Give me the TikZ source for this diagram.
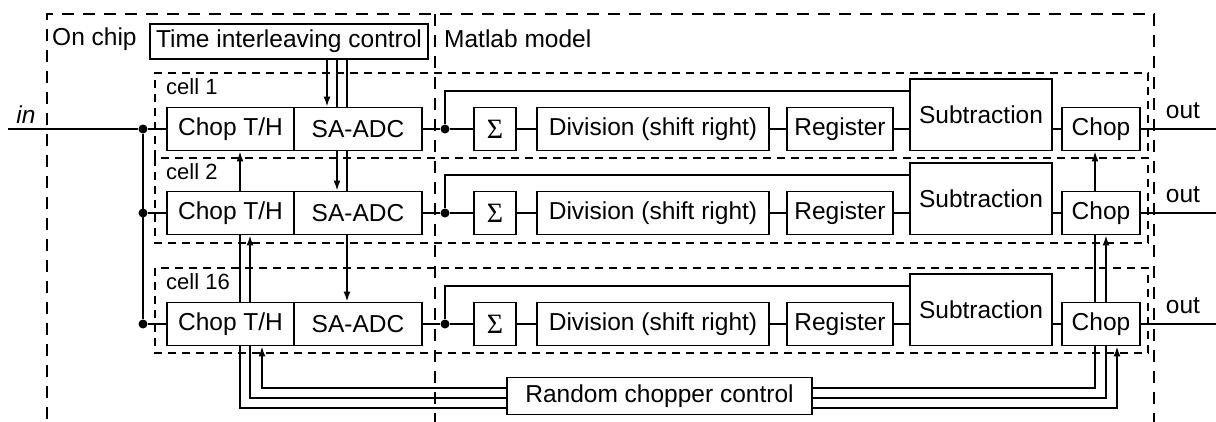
\documentclass[tikz,border=0pt]{standalone}
\usepackage{fontspec}
\setmainfont{Liberation Sans}
\newfontfamily\sigfont{Liberation Serif}
\usetikzlibrary{arrows.meta,calc}

\begin{document}
\begin{tikzpicture}[x=1pt,y=-1pt,
  blk/.style={draw, line width=1.8pt, inner sep=0pt, minimum height=43pt,
              font=\fontsize{24.5}{28}\selectfont},
  region/.style={draw, line width=1.7pt, dash pattern=on 12pt off 9pt},
  cellbox/.style={draw, line width=1.7pt, dash pattern=on 8pt off 6pt},
  wire/.style={draw, line width=1.7pt},
  ctl/.style={wire, -{Latex[length=10pt,width=7pt]}},
  lbl/.style={inner sep=0pt, font=\fontsize{24.5}{28}\selectfont},
  celllbl/.style={inner sep=0pt, anchor=base west, font=\fontsize{22}{26}\selectfont},
  dot/.style={circle, fill, inner sep=0pt, minimum size=9pt},
]
\useasboundingbox (0,0) rectangle (1216,421);
\clip (0,0) rectangle (1216,421);

% on-chip / model regions
\draw[region] (47,440) -- (47,14) -- (1154,14) -- (1154,440);
\draw[region] (435,14) -- (435,440);
\node[lbl, anchor=base west] (onchip) at (52,45) {On chip};
\node[lbl, anchor=base west] (matlab) at (444,47) {Matlab model};

% cell outlines
\draw[cellbox] (155,158) -- (155,73) -- (1148,73) -- (1148,158);
\draw[cellbox] (155,158) rectangle (1148,243);
\draw[cellbox] (155,268) rectangle (1148,353);
\node[celllbl] (cl1) at (166,94) {cell 1};
\node[celllbl] (cl2) at (166,179) {cell 2};
\node[celllbl] (cl3) at (166,289) {cell 16};

% control blocks
\node[blk, minimum width=278pt, minimum height=35pt] (tic) at (289,41.5) {Time interleaving control};
\node[blk, minimum width=305pt, minimum height=37pt] (rcc) at (659.5,396) {Random chopper control};

% signal chain of each cell
\foreach \r/\c in {1/129, 2/213, 3/324} {
  \node[blk, minimum width=127pt] (th\r) at (230.5,\c) {Chop T/H};
  \node[blk, minimum width=128pt] (adc\r) at (358,\c) {SA-ADC};
  \node[blk, minimum width=42pt] (sig\r) at (495,\c) {\sigfont\fontsize{28}{30}\selectfont Σ};
  \node[blk, minimum width=232pt] (div\r) at (653,\c) {Division (shift right)};
  \node[blk, minimum width=106pt] (reg\r) at (840,\c) {Register};
  \node[blk, minimum width=142pt, minimum height=71.5pt] (sub\r) at (981,\c-14.25) {Subtraction};
  \node[blk, minimum width=78pt] (chp\r) at (1101,\c) {Chop};
  \node[dot] (din\r) at (143,\c) {};
  \node[dot] (dout\r) at (445,\c) {};
  \coordinate (fb\r) at (981,\c-38);
  \coordinate (out\r) at (1216,\c);
  \draw[wire] (din\r) -- (th\r);
  \draw[wire] (adc\r) -- (dout\r) -- (sig\r);
  \draw[wire] (sig\r) -- (div\r);
  \draw[wire] (div\r) -- (reg\r);
  \draw[wire] (reg\r.east) -- (reg\r.east -| sub\r.west);
  \draw[wire] (chp\r.west -| sub\r.east) -- (chp\r.west);
  \draw[wire] (dout\r) |- (sub\r.west |- fb\r);
  \draw[wire] (chp\r) -- (out\r);
  \node[lbl, anchor=base] (outl\r) at (1183,\c-11) {out};
}

% input distribution
\coordinate (inL) at (8,129);
\draw[wire] (inL) -- (din1);
\draw[wire] (din1) -- (din3);
\node[lbl, anchor=base] (inlbl) at (26,123) {\itshape in};

% time interleaving control lines
\coordinate (ta) at (327,0);
\coordinate (tb) at (337,0);
\coordinate (tc) at (347,0);
\draw[ctl] (tic.south -| ta) -- (adc1.north -| ta);
\draw[wire] (tic.south -| tb) -- (adc1.north -| tb);
\draw[ctl] (adc1.south -| tb) -- (adc2.north -| tb);
\draw[wire] (tic.south -| tc) -- (adc1.north -| tc);
\draw[wire] (adc1.south -| tc) -- (adc2.north -| tc);
\draw[ctl] (adc2.south -| tc) -- (adc3.north -| tc);

% random chopper control lines
\coordinate (ha) at (0,388);
\coordinate (hb) at (0,398);
\coordinate (hc) at (0,408);
\coordinate (la) at (240,0);
\coordinate (lb) at (250,0);
\coordinate (lc) at (262,0);
\coordinate (ra) at (1095,0);
\coordinate (rb) at (1106,0);
\coordinate (rc) at (1117,0);

\draw[ctl] (rcc.west |- ha) -| (th3.south -| lc);
\draw[wire] (rcc.west |- hb) -| (th3.south -| lb);
\draw[ctl] (th3.north -| lb) -- (th2.south -| lb);
\draw[wire] (rcc.west |- hc) -| (th3.south -| la);
\draw[wire] (th3.north -| la) -- (th2.south -| la);
\draw[ctl] (th2.north -| la) -- (th1.south -| la);

\draw[ctl] (rcc.east |- hc) -| (chp3.south -| rc);
\draw[wire] (rcc.east |- hb) -| (chp3.south -| rb);
\draw[ctl] (chp3.north -| rb) -- (chp2.south -| rb);
\draw[wire] (rcc.east |- ha) -| (chp3.south -| ra);
\draw[wire] (chp3.north -| ra) -- (chp2.south -| ra);
\draw[ctl] (chp2.north -| ra) -- (chp1.south -| ra);
\end{tikzpicture}
\end{document}
